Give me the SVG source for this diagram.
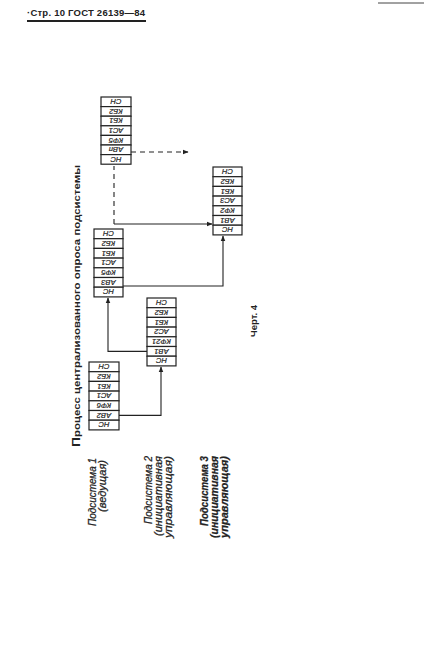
<svg xmlns="http://www.w3.org/2000/svg" width="424" height="665" viewBox="0 0 424 665">
<style>
.bg{fill:#fff}
.cell{fill:#fff;stroke:#222;stroke-width:1.2}
.ct{font-family:"Liberation Sans",Arial,sans-serif;font-style:italic;font-size:7.6px;fill:#222;text-anchor:middle;stroke:#222;stroke-width:0.2}
.ln{fill:none;stroke:#222;stroke-width:1.1}
.dash{fill:none;stroke:#222;stroke-width:1.1;stroke-dasharray:5,4}
.lbl{font-family:"Liberation Sans",Arial,sans-serif;font-style:italic;font-size:10px;fill:#222;stroke:#222;stroke-width:0.25}
.hd{font-family:"Liberation Sans",Arial,sans-serif;font-weight:bold;font-size:9.5px;fill:#222}
</style>
<defs>
<marker id="ah" viewBox="0 0 10 10" refX="9" refY="5" markerWidth="6" markerHeight="6" orient="auto" markerUnits="userSpaceOnUse">
<path d="M0,1 L10,5 L0,9 Z" fill="#222"/>
</marker>
</defs>
<rect class="bg" width="424" height="665"/>
<g id="header">
<text class="hd" x="27" y="16" textLength="118" lengthAdjust="spacing">·Стр. 10 ГОСТ 26139—84</text>
<line x1="27" y1="21" x2="146" y2="21" stroke="#222" stroke-width="1.8"/>
<line x1="378" y1="3" x2="424" y2="3" stroke="#444" stroke-width="1"/>
</g>
<g id="title">
<text class="hd" x="80" y="447" transform="rotate(-90 80 447)" textLength="282" lengthAdjust="spacingAndGlyphs"><tspan font-size="11.5px">П</tspan>роцесс централизованного опроса подсистемы</text>
</g>
<g id="boxA">
<rect class="cell" x="101" y="97" width="30" height="9.6"/><text class="ct" transform="rotate(180 116 101.8)" x="116" y="104.5">СН</text>
<rect class="cell" x="101" y="106.6" width="30" height="9.6"/><text class="ct" transform="rotate(180 116 111.4)" x="116" y="114.1">КБ2</text>
<rect class="cell" x="101" y="116.2" width="30" height="9.6"/><text class="ct" transform="rotate(180 116 121)" x="116" y="123.7">КБ1</text>
<rect class="cell" x="101" y="125.8" width="30" height="9.6"/><text class="ct" transform="rotate(180 116 130.6)" x="116" y="133.3">АС1</text>
<rect class="cell" x="101" y="135.4" width="30" height="9.6"/><text class="ct" transform="rotate(180 116 140.2)" x="116" y="142.9">КФ5</text>
<rect class="cell" x="101" y="145" width="30" height="9.6"/><text class="ct" transform="rotate(180 116 149.8)" x="116" y="152.5">АВп</text>
<rect class="cell" x="101" y="154.6" width="30" height="9.6"/><text class="ct" transform="rotate(180 116 159.4)" x="116" y="162.1">НС</text>
</g>
<g id="boxB">
<rect class="cell" x="213" y="167" width="29" height="9.7"/><text class="ct" transform="rotate(180 227.5 171.85)" x="227.5" y="174.55">СН</text>
<rect class="cell" x="213" y="176.7" width="29" height="9.7"/><text class="ct" transform="rotate(180 227.5 181.55)" x="227.5" y="184.25">КБ2</text>
<rect class="cell" x="213" y="186.4" width="29" height="9.7"/><text class="ct" transform="rotate(180 227.5 191.25)" x="227.5" y="193.95">КБ1</text>
<rect class="cell" x="213" y="196.1" width="29" height="9.7"/><text class="ct" transform="rotate(180 227.5 200.95)" x="227.5" y="203.65">АС3</text>
<rect class="cell" x="213" y="205.8" width="29" height="9.7"/><text class="ct" transform="rotate(180 227.5 210.65)" x="227.5" y="213.35">КФ2</text>
<rect class="cell" x="213" y="215.5" width="29" height="9.7"/><text class="ct" transform="rotate(180 227.5 220.35)" x="227.5" y="223.05">АВ1</text>
<rect class="cell" x="213" y="225.2" width="29" height="9.7"/><text class="ct" transform="rotate(180 227.5 230.05)" x="227.5" y="232.75">НС</text>
</g>
<g id="boxC">
<rect class="cell" x="94" y="229" width="29" height="9.7"/><text class="ct" transform="rotate(180 108.5 233.85)" x="108.5" y="236.55">СН</text>
<rect class="cell" x="94" y="238.7" width="29" height="9.7"/><text class="ct" transform="rotate(180 108.5 243.55)" x="108.5" y="246.25">КБ2</text>
<rect class="cell" x="94" y="248.4" width="29" height="9.7"/><text class="ct" transform="rotate(180 108.5 253.25)" x="108.5" y="255.95">КБ1</text>
<rect class="cell" x="94" y="258.1" width="29" height="9.7"/><text class="ct" transform="rotate(180 108.5 262.95)" x="108.5" y="265.65">АС1</text>
<rect class="cell" x="94" y="267.8" width="29" height="9.7"/><text class="ct" transform="rotate(180 108.5 272.65)" x="108.5" y="275.35">КФ5</text>
<rect class="cell" x="94" y="277.5" width="29" height="9.7"/><text class="ct" transform="rotate(180 108.5 282.35)" x="108.5" y="285.05">АВ3</text>
<rect class="cell" x="94" y="287.2" width="29" height="9.7"/><text class="ct" transform="rotate(180 108.5 292.05)" x="108.5" y="294.75">НС</text>
</g>
<g id="boxD">
<rect class="cell" x="147" y="298" width="29" height="9.7"/><text class="ct" transform="rotate(180 161.5 302.85)" x="161.5" y="305.55">СН</text>
<rect class="cell" x="147" y="307.7" width="29" height="9.7"/><text class="ct" transform="rotate(180 161.5 312.55)" x="161.5" y="315.25">КБ2</text>
<rect class="cell" x="147" y="317.4" width="29" height="9.7"/><text class="ct" transform="rotate(180 161.5 322.25)" x="161.5" y="324.95">КБ1</text>
<rect class="cell" x="147" y="327.1" width="29" height="9.7"/><text class="ct" transform="rotate(180 161.5 331.95)" x="161.5" y="334.65">АС2</text>
<rect class="cell" x="147" y="336.8" width="29" height="9.7"/><text class="ct" transform="rotate(180 161.5 341.65)" x="161.5" y="344.35">КФ21</text>
<rect class="cell" x="147" y="346.5" width="29" height="9.7"/><text class="ct" transform="rotate(180 161.5 351.35)" x="161.5" y="354.05">АВ1</text>
<rect class="cell" x="147" y="356.2" width="29" height="9.7"/><text class="ct" transform="rotate(180 161.5 361.05)" x="161.5" y="363.75">НС</text>
</g>
<g id="boxE">
<rect class="cell" x="89" y="362" width="30" height="9.7"/><text class="ct" transform="rotate(180 104 366.85)" x="104" y="369.55">СН</text>
<rect class="cell" x="89" y="371.7" width="30" height="9.7"/><text class="ct" transform="rotate(180 104 376.55)" x="104" y="379.25">КБ2</text>
<rect class="cell" x="89" y="381.4" width="30" height="9.7"/><text class="ct" transform="rotate(180 104 386.25)" x="104" y="388.95">КБ1</text>
<rect class="cell" x="89" y="391.1" width="30" height="9.7"/><text class="ct" transform="rotate(180 104 395.95)" x="104" y="398.65">АС1</text>
<rect class="cell" x="89" y="400.8" width="30" height="9.7"/><text class="ct" transform="rotate(180 104 405.65)" x="104" y="408.35">КФ6</text>
<rect class="cell" x="89" y="410.5" width="30" height="9.7"/><text class="ct" transform="rotate(180 104 415.35)" x="104" y="418.05">АВ2</text>
<rect class="cell" x="89" y="420.2" width="30" height="9.7"/><text class="ct" transform="rotate(180 104 425.05)" x="104" y="427.75">НС</text>
</g>
<g id="connectors">
<path class="ln" d="M119,415.4 H161 V367" marker-end="url(#ah)"/>
<path class="ln" d="M147,351.4 H108 V298" marker-end="url(#ah)"/>
<path class="ln" d="M123,286 H223 V236" marker-end="url(#ah)"/>
<path class="ln" d="M114,224 H212" marker-end="url(#ah)"/>
<path class="dash" d="M114,224 V166"/>
<path class="dash" d="M131,152 H188" marker-end="url(#ah)"/>
</g>
<g id="labels">
<text class="lbl" x="96" y="458" text-anchor="end" transform="rotate(-90 96 458)" textLength="68" lengthAdjust="spacingAndGlyphs">Подсистема 1</text>
<text class="lbl" x="106" y="460" text-anchor="end" transform="rotate(-90 106 460)" textLength="52" lengthAdjust="spacingAndGlyphs">(ведущая)</text>
<text class="lbl" x="152" y="456" text-anchor="end" transform="rotate(-90 152 456)" textLength="68" lengthAdjust="spacingAndGlyphs">Подсистема 2</text>
<text class="lbl" x="162" y="456" text-anchor="end" transform="rotate(-90 162 456)" textLength="80" lengthAdjust="spacingAndGlyphs">(инициативная</text>
<text class="lbl" x="172" y="456" text-anchor="end" transform="rotate(-90 172 456)" textLength="82" lengthAdjust="spacingAndGlyphs">управляющая)</text>
<text class="lbl" x="208" y="456" text-anchor="end" transform="rotate(-90 208 456)" textLength="70" lengthAdjust="spacingAndGlyphs" font-weight="bold">Подсистема 3</text>
<text class="lbl" x="218" y="456" text-anchor="end" transform="rotate(-90 218 456)" textLength="82" lengthAdjust="spacingAndGlyphs" font-weight="bold">(инициативная</text>
<text class="lbl" x="228" y="456" text-anchor="end" transform="rotate(-90 228 456)" textLength="82" lengthAdjust="spacingAndGlyphs" font-weight="bold">управляющая)</text>
<text class="hd" x="257" y="337" transform="rotate(-90 257 337)" font-size="10px">Черт. 4</text>
</g>
</svg>
